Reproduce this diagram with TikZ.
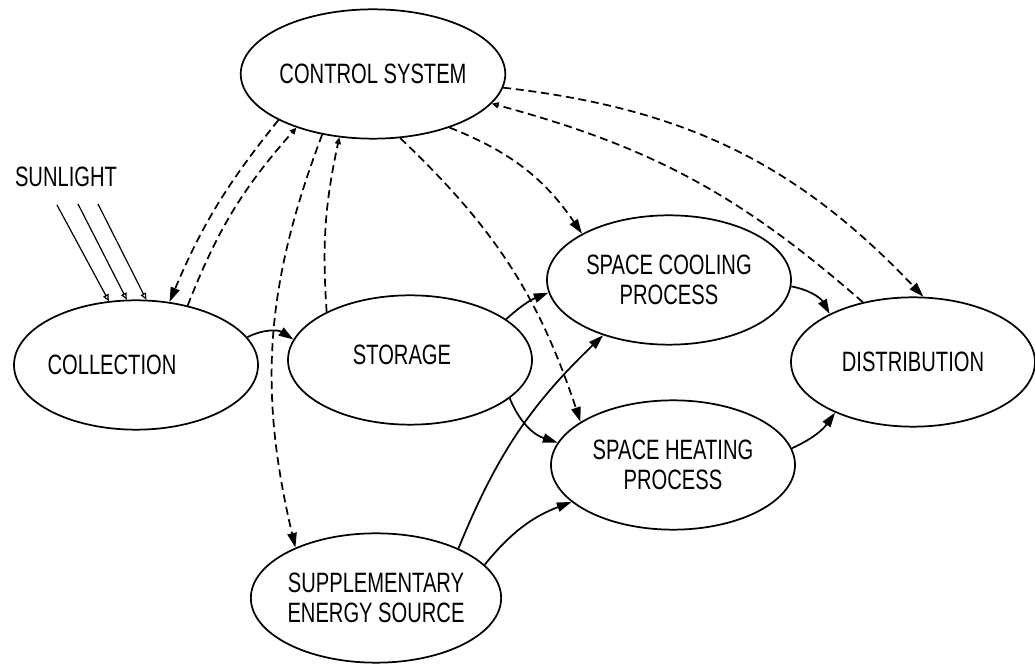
\documentclass[tikz,border=0pt]{standalone}
\usepackage{fontspec}
\setsansfont{Liberation Sans}[FakeStretch=0.72]
\usetikzlibrary{shapes.geometric,arrows.meta}

\begin{document}
\begin{tikzpicture}[>={Triangle[length=11pt,width=7pt]}, ->, x=0.75pt, y=0.75pt, line width=1.3pt,
  main node/.style={ellipse, draw, minimum width=183pt, minimum height=97pt, inner sep=0pt, align=center},
  feedback/.style={dash pattern=on 6pt off 3.5pt},
  back/.style={-{Triangle[open,length=5pt,width=4.5pt]}}]
  \tikzstyle{every node}=[font=\sffamily\fontsize{21}{23}\selectfont]
  \useasboundingbox (0,0) rectangle (1035,667);

  \node[main node] (ctrl) at (373,593) {CONTROL SYSTEM};
  \node[main node, label={[xshift=-18pt]center:COLLECTION}] (coll) at (136,302) {};
  \node[main node, label={[xshift=-6pt,yshift=4pt]center:STORAGE}] (stor) at (410,307) {};
  \node[main node] (cool) at (669,387) {SPACE COOLING\\PROCESS};
  \node[main node] (heat) at (673,202) {SPACE HEATING\\PROCESS};
  \node[main node] (dist) at (913,305) {DISTRIBUTION};
  \node[main node] (supp) at (376,69) {SUPPLEMENTARY\\ENERGY SOURCE};
  \node[] (sun) at (66,490) {SUNLIGHT};

  % incoming sunlight
  \coordinate (ray1) at (57,462);
  \coordinate (ray2) at (78,463);
  \coordinate (ray3) at (98,463);
  \foreach \r/\a in {1/113, 2/98, 3/81}
    \draw[back, line width=0.9pt] (ray\r) -- (coll.\a);

  % control signals
  \path[feedback]
    (ctrl.206) edge[bend right=8] (coll.62)
    (ctrl.230) edge[bend right=17] (supp.148)
    (ctrl.293) edge[bend left=14] (heat.155)
    (ctrl.325) edge[bend left=17] (cool.152)
    (ctrl.354) edge[bend left=20] (dist.81);
  \path[feedback, back]
    (coll.49) edge[bend left=10] (ctrl.215)
    (stor.150) edge[bend left=8] (ctrl.242)
    (dist.130) edge[bend right=13] (ctrl.346);

  % energy flow
  \path
    (coll.14) edge[bend left=30] (stor.170)
    (stor.23) edge[bend left=10] (cool.186)
    (stor.339) edge[bend right=25] (heat.169)
    (supp.31) edge[bend left=12] (cool.220)
    (supp.17) edge[bend left=15] (heat.200)
    (cool.357) edge[bend left=25] (dist.150)
    (heat.8) edge[bend right=15] (dist.213);
\end{tikzpicture}
\end{document}
